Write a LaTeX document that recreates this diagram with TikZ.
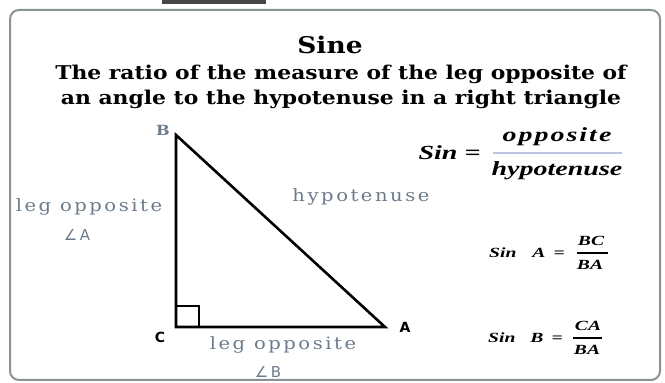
\documentclass[tikz,border=0pt]{standalone}
\usepackage{fontspec}
\setmainfont{Liberation Serif}
\newfontfamily\headfont[FakeStretch=1.15]{DejaVu Serif}
\newfontfamily\legfont[FakeStretch=1.15, LetterSpace=15]{DejaVu Serif}
\newfontfamily\ratiofont[FakeStretch=1.4]{Liberation Serif}
\newfontfamily\vertfont{DejaVu Sans}
\usetikzlibrary{positioning}
\definecolor{FrameGray}{RGB}{138,146,150}
\definecolor{SlateLabel}{RGB}{108,124,140}
\definecolor{BarLilac}{RGB}{188,194,226}

\tikzset{
  legtext/.style={font=\legfont\fontsize{17}{19}\selectfont, color=SlateLabel},
  angletext/.style={font=\vertfont\fontsize{15}{17}\selectfont, color=SlateLabel},
  formula/.style={font=\ratiofont\bfseries\itshape\fontsize{20}{22}\selectfont},
  smallformula/.style={font=\ratiofont\bfseries\itshape\fontsize{14}{16}\selectfont, inner sep=1pt},
  vertexlabel/.style={font=\vertfont\bfseries\fontsize{14}{16}\selectfont}
}

\begin{document}
\begin{tikzpicture}[x=1pt, y=1pt]
  % canvas and frame
  \useasboundingbox (0,0) rectangle (665,383);
  \fill[white] (0,0) rectangle (665,383);
  \fill[black!72] (162,379) rectangle (266,383);
  \draw[FrameGray, line width=2pt, rounded corners=9pt] (10,3) rectangle (660,373);

  % heading
  \node[font=\headfont\bfseries\fontsize{23}{26}\selectfont] (title) at (330,338) {Sine};
  \node[font=\headfont\bfseries\fontsize{19}{25}\selectfont, align=center] (definition) at (341,296)
    {The ratio of the measure of the leg opposite of\\an angle to the hypotenuse in a right triangle};

  % right triangle
  \coordinate (B) at (176,248);
  \coordinate (C) at (176,56);
  \coordinate (A) at (385,56);
  \draw[line width=2.6pt, line join=miter] (B) -- (C) -- (A) -- cycle;
  \draw[line width=1.8pt] (176,77) -- (199,77) -- (199,56);

  \node[vertexlabel, color=SlateLabel, font=\headfont\bfseries\fontsize{14}{16}\selectfont] (labelB) at (163,253) {B};
  \node[vertexlabel] (labelC) at (160,46) {C};
  \node[vertexlabel] (labelA) at (405,56) {A};

  % side names
  \node[legtext] (legBC) at (89,176) {leg opposite};
  \node[angletext] (angleA) at (77,148) {∠\,A};
  \node[legtext] (hyp) at (361,186) {hypotenuse};
  \node[legtext] (legCA) at (283,38) {leg opposite};
  \node[angletext] (angleB) at (268,11) {∠\,B};

  % general ratio
  \node[formula, anchor=east] (sinword) at (484,230) {Sin =};
  \node[formula, font=\ratiofont\bfseries\itshape\fontsize{20}{22}\selectfont\addfontfeature{LetterSpace=10}] (opp) at (557,246) {opposite};
  \node[formula] (hypot) at (557,212) {hypotenuse};
  \draw[BarLilac, line width=1.6pt] (493,230) -- (622,230);

  % sine of A
  \node[smallformula, anchor=west] (sinA) at (488,130) {Sin\hspace{16pt}A\hspace{8pt}=};
  \node[smallformula] (numA) at (591,142) {BC};
  \node[smallformula] (denA) at (590,118) {BA};
  \draw[line width=1.1pt] (577,130) -- (608,130);

  % sine of B
  \node[smallformula, anchor=west] (sinB) at (487,45) {Sin\hspace{15pt}B\hspace{8pt}=};
  \node[smallformula] (numB) at (588,57) {CA};
  \node[smallformula] (denB) at (587,33) {BA};
  \draw[line width=1.1pt] (573,45) -- (602,45);
\end{tikzpicture}
\end{document}
